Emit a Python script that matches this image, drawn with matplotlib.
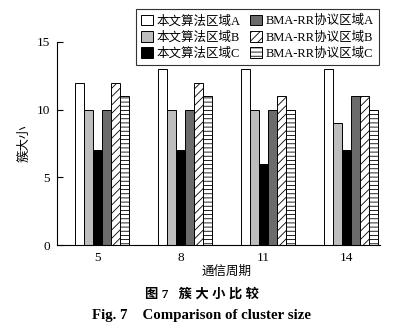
import matplotlib
matplotlib.use("Agg")
import matplotlib.pyplot as plt
import numpy as np

plt.rcParams['font.family'] = ['Liberation Serif', 'Noto Sans CJK SC', 'DejaVu Sans']
plt.rcParams['hatch.linewidth'] = 0.6

periods = ['5', '8', '11', '14']
series_labels = ['本文算法区域A', '本文算法区域B', '本文算法区域C',
                 'BMA-RR协议区域A', 'BMA-RR协议区域B', 'BMA-RR协议区域C']
ours_A = [12, 13, 13, 13]
ours_B = [10, 10, 10, 9]
ours_C = [7, 7, 6, 7]
bma_A = [10, 10, 10, 11]
bma_B = [12, 12, 11, 11]
bma_C = [11, 11, 10, 10]
series_values = [ours_A, ours_B, ours_C, bma_A, bma_B, bma_C]
y_ticks = [0, 5, 10, 15]

facecolors = ['white', '#bdbdbd', 'black', '#6b6b6b', 'white', 'white']
hatches = [None, None, None, None, '////', '----']

fig = plt.figure(figsize=(4.09, 3.30), dpi=100)
ax = fig.add_axes([57/409, 1-245/330, (380-57)/409, (245-42)/330])

x = np.arange(len(periods))
w = 0.108
handles = []
for i, (vals, lab, fc, h) in enumerate(zip(series_values, series_labels, facecolors, hatches)):
    b = ax.bar(x + (i - 2.5) * w, vals, width=w, facecolor=fc, edgecolor='black',
               linewidth=0.7, hatch=h, label=lab)
    handles.append(b)

ax.set_xlim(-0.542, 3.35)
ax.set_ylim(0, 15)
ax.set_yticks(y_ticks)
ax.set_yticklabels([str(t) for t in y_ticks], fontsize=9.5)
ax.set_xticks(x - 0.5 * w)
ax.set_xticklabels(periods, fontsize=9.5)
ax.tick_params(axis='y', direction='in', length=4, width=0.8, pad=5)
ax.tick_params(axis='x', length=0, pad=5)
for s in ['top', 'right']:
    ax.spines[s].set_visible(False)
for s in ['left', 'bottom']:
    ax.spines[s].set_linewidth(0.8)

leg = ax.legend(handles=handles, ncol=2, loc='upper right',
                bbox_to_anchor=(379/409, 1-9/330), bbox_transform=fig.transFigure,
                fontsize=9, frameon=True, fancybox=False, edgecolor='black',
                handlelength=0.95, handleheight=0.95, handletextpad=0.3,
                columnspacing=0.7, labelspacing=0.28, borderpad=0.45,
                borderaxespad=0)
leg.get_frame().set_linewidth(0.8)

fig.text(25/409, 1-143/330, '簇大小', rotation=90, ha='center', va='center', fontsize=9)
fig.text(227/409, 1-272/330, '通信周期', ha='center', va='center', fontsize=9)
fig.text(202/409, 1-294/330, '图 7   簇 大 小 比 较', ha='center', va='center',
         fontsize=9.6, fontweight='bold')
fig.text(202/409, 1-315/330, 'Fig. 7    Comparison of cluster size', ha='center',
         va='center', fontsize=10.7, fontweight='bold')

fig.savefig('out.png', dpi=100)
